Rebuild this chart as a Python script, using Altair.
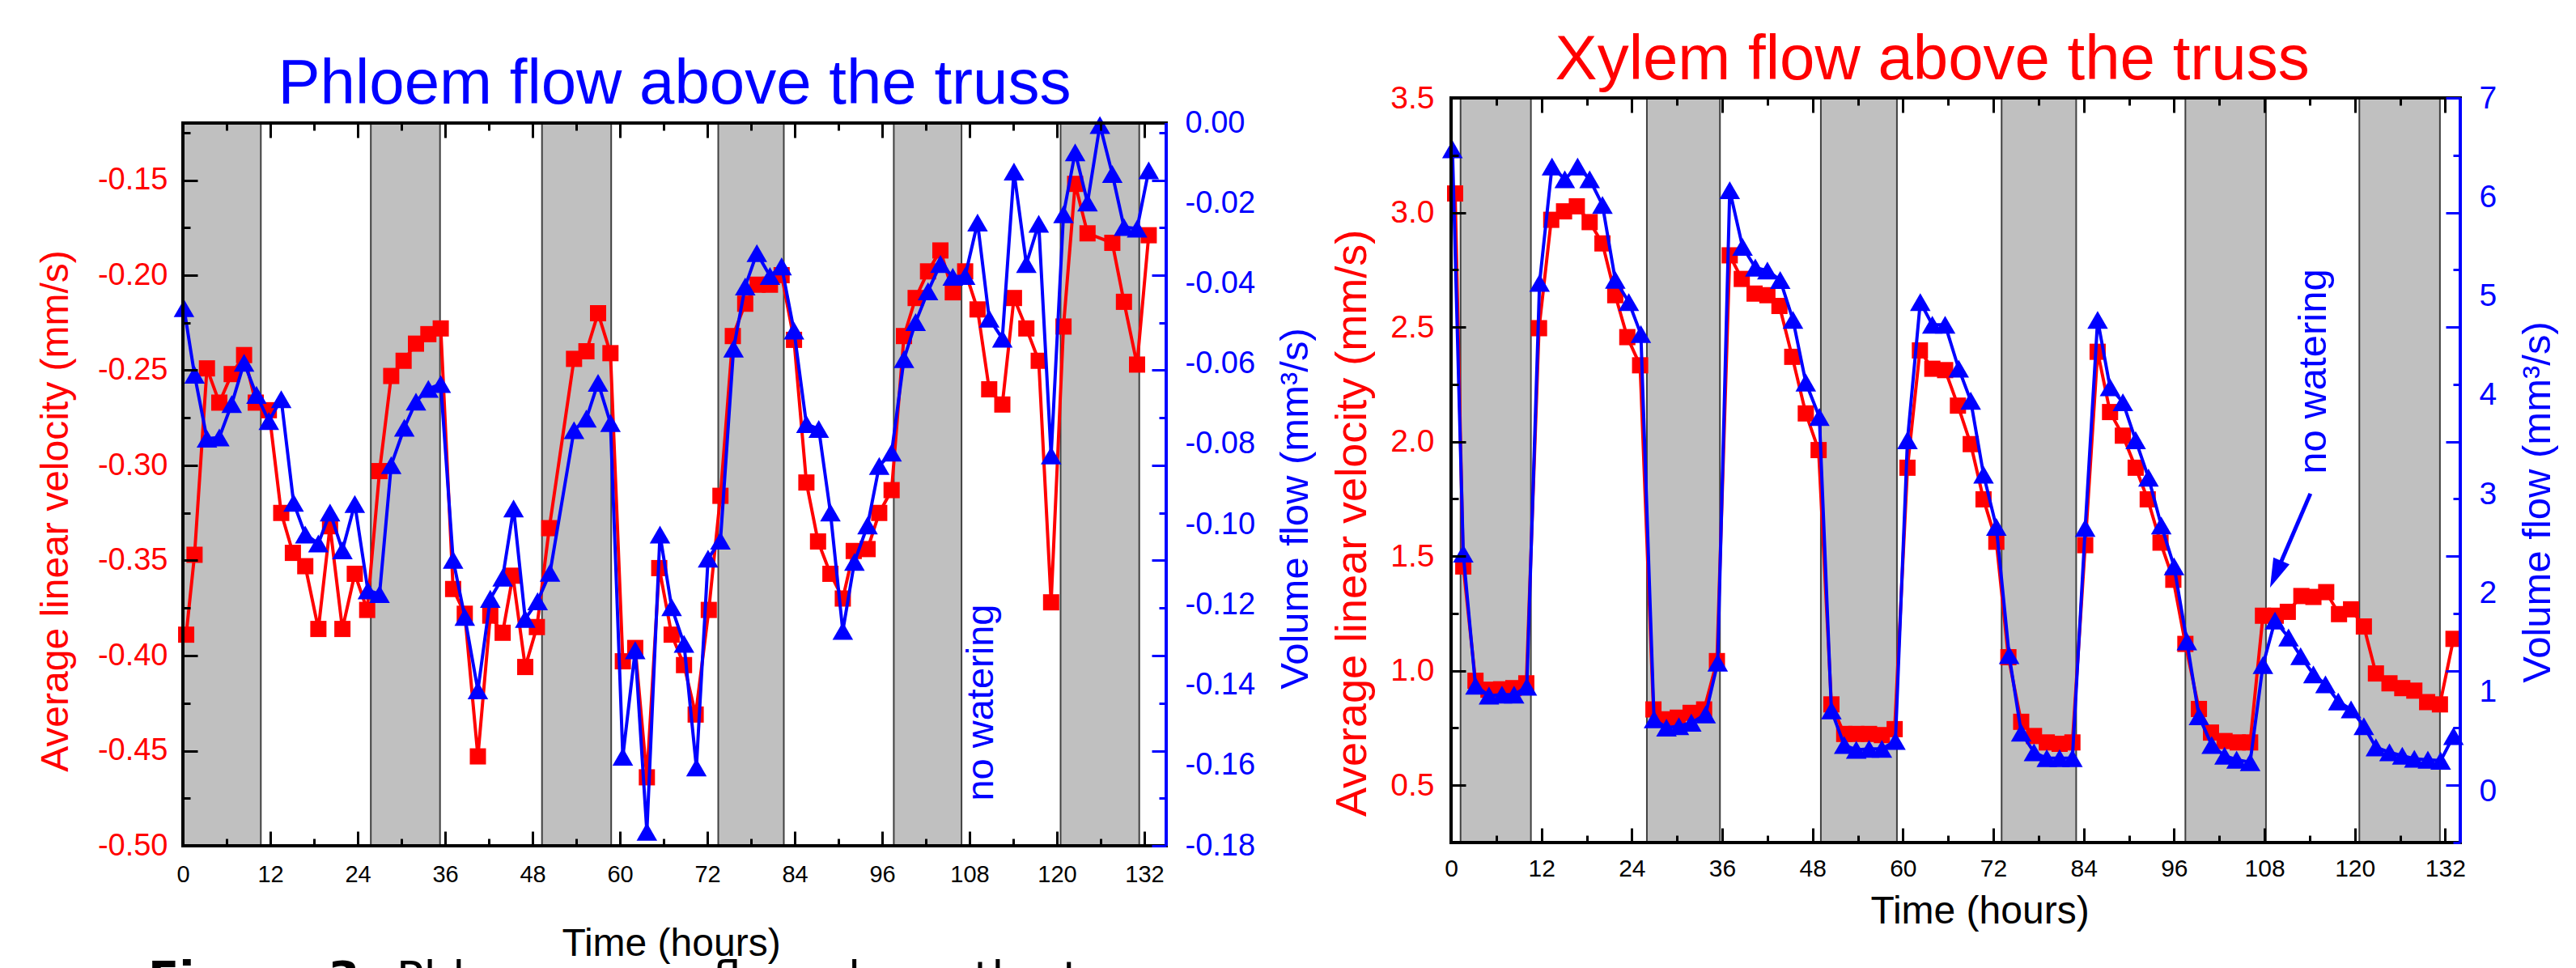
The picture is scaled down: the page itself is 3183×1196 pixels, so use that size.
import altair as alt
import pandas as pd

# ----------------------------------------------------------------- data
# Left panel: phloem flow above the truss
phloem_vel_hours = [0.45, 1.6, 3.3, 5.0, 6.7, 8.4, 10.0, 11.8, 13.5, 15.1,
                    16.8, 18.6, 20.2, 21.9, 23.6, 25.3, 27.0, 28.6, 30.3, 32.0,
                    33.7, 35.4, 37.1, 38.7, 40.5, 42.2, 43.9, 45.3, 47.0, 48.6,
                    50.3, 53.7, 55.4, 57.0, 58.7, 60.4, 62.1, 63.7, 65.4, 67.1,
                    68.8, 70.4, 72.2, 73.8, 75.5, 77.2, 78.9, 80.6, 82.2, 83.9,
                    85.6, 87.2, 88.9, 90.6, 92.1, 94.0, 95.6, 97.3, 99.0, 100.6,
                    102.3, 104.0, 105.7, 107.4, 109.1, 110.7, 112.5, 114.1, 115.8, 117.5,
                    119.2, 120.9, 122.5, 124.2, 127.6, 129.2, 131.0, 132.6]
phloem_velocity = [-0.389, -0.347, -0.249, -0.267, -0.252, -0.242, -0.267, -0.271, -0.325, -0.346,
                   -0.353, -0.386, -0.332, -0.386, -0.357, -0.376, -0.303, -0.253, -0.245, -0.236,
                   -0.231, -0.228, -0.365, -0.378, -0.453, -0.379, -0.388, -0.358, -0.406, -0.385,
                   -0.333, -0.244, -0.240, -0.220, -0.241, -0.403, -0.396, -0.464, -0.354, -0.389,
                   -0.405, -0.431, -0.376, -0.316, -0.232, -0.215, -0.205, -0.205, -0.200, -0.234,
                   -0.309, -0.340, -0.357, -0.370, -0.345, -0.344, -0.325, -0.313, -0.232, -0.212,
                   -0.198, -0.187, -0.209, -0.198, -0.218, -0.260, -0.268, -0.212, -0.228, -0.245,
                   -0.372, -0.227, -0.152, -0.178, -0.183, -0.214, -0.247, -0.179]
phloem_vol_hours = [0.15, 1.6, 3.3, 5.0, 6.7, 8.4, 10.1, 11.8, 13.5, 15.2,
                    16.8, 18.6, 20.2, 21.9, 23.6, 25.4, 27.0, 28.6, 30.4, 32.0,
                    33.7, 35.4, 37.1, 38.7, 40.5, 42.2, 43.9, 45.4, 47.0, 48.7,
                    50.4, 53.7, 55.4, 57.0, 58.7, 60.4, 62.1, 63.7, 65.5, 67.1,
                    68.8, 70.5, 72.1, 73.8, 75.6, 77.2, 78.8, 80.6, 82.2, 83.9,
                    85.6, 87.3, 88.9, 90.6, 92.2, 94.0, 95.6, 97.3, 99.0, 100.6,
                    102.3, 104.0, 105.7, 107.4, 109.1, 110.7, 112.5, 114.1, 115.8, 117.5,
                    119.2, 120.9, 122.5, 124.2, 125.9, 127.6, 129.2, 131.0, 132.6]
phloem_volume = [-0.0461, -0.0627, -0.0786, -0.0783, -0.0700, -0.0597, -0.0677, -0.0742, -0.0688, -0.0946,
                 -0.1025, -0.1047, -0.0970, -0.1064, -0.0949, -0.1164, -0.1173, -0.0852, -0.0759, -0.0694,
                 -0.0662, -0.0650, -0.1088, -0.1230, -0.1413, -0.1185, -0.1132, -0.0960, -0.1235, -0.1191,
                 -0.1120, -0.0765, -0.0736, -0.0647, -0.0747, -0.1578, -0.1313, -0.1765, -0.1025, -0.1206,
                 -0.1297, -0.1605, -0.1085, -0.1040, -0.0562, -0.0407, -0.0324, -0.0381, -0.0357, -0.0517,
                 -0.0750, -0.0762, -0.0970, -0.1265, -0.1093, -0.1002, -0.0854, -0.0821, -0.0588, -0.0496,
                 -0.0419, -0.0351, -0.0383, -0.0381, -0.0248, -0.0487, -0.0537, -0.0121, -0.0351, -0.0251,
                 -0.0828, -0.0227, -0.0073, -0.0198, -0.0005, -0.0127, -0.0259, -0.0263, -0.0118]
phloem_night_start = [0.0, 25.8, 49.3, 73.5, 97.6, 120.5]
phloem_night_end = [10.7, 35.3, 58.8, 82.5, 106.9, 131.3]

# Right panel: xylem flow above the truss
xylem_vel_hours = [0.54, 1.62, 3.24, 4.96, 6.65, 8.27, 9.99, 11.68, 13.3, 15.0,
                   16.7, 18.4, 20.1, 21.8, 23.4, 25.1, 26.87, 28.5, 30.1, 31.8,
                   33.6, 35.3, 37.0, 38.6, 40.3, 42.0, 43.6, 45.3, 47.1, 48.8,
                   50.5, 52.2, 53.8, 55.5, 57.2, 58.9, 60.6, 62.25, 63.9, 65.6,
                   67.3, 69.0, 70.7, 72.4, 74.0, 75.7, 77.4, 79.1, 80.8, 82.5,
                   84.2, 85.85, 87.5, 89.2, 90.9, 92.5, 94.2, 95.9, 97.5, 99.3,
                   100.9, 102.7, 104.45, 106.1, 107.8, 109.5, 111.1, 112.9, 114.5, 116.2,
                   117.9, 119.5, 121.2, 122.8, 124.6, 126.3, 127.9, 129.6, 131.3, 133.1]
xylem_velocity = [3.083, 1.455, 0.956, 0.917, 0.919, 0.924, 0.945, 2.495, 2.968, 3.005,
                  3.027, 2.958, 2.865, 2.639, 2.456, 2.333, 0.831, 0.788, 0.795, 0.816,
                  0.831, 1.042, 2.813, 2.710, 2.646, 2.639, 2.592, 2.370, 2.123, 1.963,
                  0.853, 0.724, 0.724, 0.724, 0.719, 0.745, 1.886, 2.398, 2.318, 2.312,
                  2.157, 1.989, 1.748, 1.563, 1.059, 0.777, 0.715, 0.687, 0.681, 0.687,
                  1.548, 2.392, 2.129, 2.026, 1.886, 1.748, 1.559, 1.397, 1.117, 0.833,
                  0.730, 0.693, 0.687, 0.687, 1.240, 1.240, 1.257, 1.326, 1.322, 1.343,
                  1.247, 1.268, 1.193, 0.988, 0.945, 0.924, 0.913, 0.863, 0.853, 1.139]
xylem_vol_hours = [0.18, 1.62, 3.24, 5.03, 6.76, 8.37, 10.06, 11.75, 13.4, 15.1,
                   16.8, 18.4, 20.1, 21.8, 23.6, 25.2, 26.95, 28.6, 30.25, 31.9,
                   33.8, 35.4, 37.0, 38.7, 40.4, 42.0, 43.7, 45.4, 47.1, 48.9,
                   50.5, 52.2, 53.8, 55.5, 57.2, 59.0, 60.6, 62.3, 63.9, 65.6,
                   67.4, 69.0, 70.7, 72.4, 74.1, 75.7, 77.4, 79.1, 80.8, 82.5,
                   84.2, 85.85, 87.5, 89.2, 90.9, 92.6, 94.3, 96.0, 97.7, 99.3,
                   101.0, 102.7, 104.3, 106.1, 107.8, 109.4, 111.2, 112.8, 114.5, 116.1,
                   117.8, 119.5, 121.2, 122.8, 124.6, 126.3, 127.9, 129.7, 131.4, 133.1]
xylem_volume = [6.482, 2.396, 1.061, 0.962, 0.972, 0.972, 1.051, 5.132, 6.307, 6.178,
                6.307, 6.178, 5.919, 5.162, 4.937, 4.614, 0.722, 0.638, 0.653, 0.688,
                0.772, 1.295, 6.068, 5.495, 5.286, 5.256, 5.160, 4.758, 4.125, 3.777,
                0.812, 0.463, 0.414, 0.424, 0.424, 0.503, 3.542, 4.937, 4.708, 4.708,
                4.265, 3.941, 3.194, 2.666, 1.370, 0.588, 0.389, 0.329, 0.329, 0.329,
                2.656, 4.758, 4.076, 3.926, 3.542, 3.164, 2.680, 2.267, 1.510, 0.752,
                0.463, 0.354, 0.314, 0.289, 1.270, 1.719, 1.549, 1.360, 1.176, 1.076,
                0.902, 0.822, 0.653, 0.439, 0.389, 0.354, 0.324, 0.314, 0.304, 0.553]
xylem_night_start = [1.26, 26.0, 49.1, 73.1, 97.5, 120.6]
xylem_night_end = [10.6, 35.7, 59.2, 83.0, 108.2, 131.3]

# axis labels / ticks
hour_labels = [0, 12, 24, 36, 48, 60, 72, 84, 96, 108, 120, 132]
hour_ticks = [0, 6, 12, 18, 24, 30, 36, 42, 48, 54, 60, 66, 72, 78, 84, 90, 96, 102, 108, 114, 120, 126, 132]
phloem_vel_labels = [-0.50, -0.45, -0.40, -0.35, -0.30, -0.25, -0.20, -0.15]
phloem_vel_ticks = [-0.5, -0.475, -0.45, -0.425, -0.4, -0.375, -0.35, -0.325, -0.3, -0.275,
                    -0.25, -0.225, -0.2, -0.175, -0.15, -0.125]
phloem_vol_labels = [-0.18, -0.16, -0.14, -0.12, -0.10, -0.08, -0.06, -0.04, -0.02, 0.0]
xylem_vel_labels = [0.5, 1.0, 1.5, 2.0, 2.5, 3.0, 3.5]
xylem_vel_ticks = [0.25, 0.5, 0.75, 1.0, 1.25, 1.5, 1.75, 2.0, 2.25, 2.5, 2.75, 3.0, 3.25, 3.5]
xylem_vol_labels = [0, 1, 2, 3, 4, 5, 6, 7]

# ----------------------------------------------------------------- style / layout
FONT = "Liberation Sans"
RED = "#FF0000"
BLUE = "#0000FF"
GRAY = "#C0C0C0"
EDGE = "#404040"
MINUS_FIX = "replace(datum.label, '\u2212', '-')"
TOTAL_W, TOTAL_H = 2814, 924          # one drawing area holding both panels


def tick_layer(vals, ch, scale, orient, offset, test, color):
    ax = alt.Axis(orient=orient, offset=offset, values=vals, labels=False, ticks=True,
                  tickColor=color, tickWidth=3,
                  tickSize={"condition": {"test": test, "value": 18}, "value": 9},
                  domain=False, grid=False, title=None, zindex=2)
    base = alt.Chart(pd.DataFrame({"v": vals})).mark_point(opacity=0)
    if ch == "x":
        return base.encode(x=alt.X("v:Q", scale=scale, axis=ax))
    return base.encode(y=alt.Y("v:Q", scale=scale, axis=ax))


def text_layer(label, x, y, XS, YS, **kw):
    return alt.Chart(pd.DataFrame({"t": [label], "x": [x], "y": [y]})).mark_text(**kw).encode(
        x=alt.X("x:Q", scale=XS, axis=None),
        y=alt.Y("y:Q", scale=YS, axis=None),
        text="t:N",
    )


def panel(x0, x1, y_top, y_bot, xdom, vdom, qdom, vel_h, vel, vol_h, vol, n_start, n_end,
          vel_labels, vel_fmt, vel_ticks, vel_test, vol_labels, vol_fmt,
          xlab_size, xlab_pad, ylab_size, red_title, blue_title, time_title):
    XS = alt.Scale(domain=xdom, range=[x0, x1], nice=False, zero=False)
    RS = alt.Scale(domain=vdom, range=[y_bot, y_top], nice=False, zero=False)
    BS = alt.Scale(domain=qdom, range=[y_bot, y_top], nice=False, zero=False)

    x_axis = alt.Axis(orient="bottom", offset=-(TOTAL_H - y_bot), values=hour_labels, format="d",
                      ticks=False, domain=False,
                      labelFont=FONT, labelFontSize=xlab_size, labelColor="black",
                      labelPadding=xlab_pad, labelFlush=False, labelOverlap=False, grid=False,
                      title="Time (hours)", titleFont=FONT, titleFontSize=48,
                      titleFontWeight="normal", titleColor="black",
                      titleBaseline="alphabetic", titleAlign="center",
                      titleX=time_title[0], titleY=time_title[1], zindex=2)
    bands = alt.Chart(pd.DataFrame({"start": n_start, "end": n_end,
                                    "lo": vdom[0], "hi": vdom[1]})).mark_rect(
        fill=GRAY, stroke=EDGE, strokeWidth=2
    ).encode(
        x=alt.X("start:Q", scale=XS, axis=x_axis),
        x2="end:Q",
        y=alt.Y("lo:Q", scale=RS, axis=None),
        y2="hi:Q",
    )

    red_axis = alt.Axis(orient="left", offset=-x0, values=vel_labels, format=vel_fmt,
                        labelExpr=MINUS_FIX, ticks=False, domain=False,
                        labelFont=FONT, labelFontSize=ylab_size, labelColor=RED,
                        labelPadding=red_title[3], labelFlush=False, labelOverlap=False,
                        grid=False, title="Average linear velocity (mm/s)", titleFont=FONT,
                        titleFontSize=red_title[2], titleFontWeight="normal", titleColor=RED,
                        titleAngle=270, titleAlign="center", titleBaseline="middle",
                        titleX=red_title[0], titleY=red_title[1], zindex=2)
    red = alt.Chart(pd.DataFrame({"hours": vel_h, "velocity": vel})).mark_line(
        color=RED, strokeWidth=4,
        point=alt.OverlayMarkDef(shape="square", size=400, filled=True, color=RED, opacity=1),
    ).encode(
        x=alt.X("hours:Q", scale=XS, axis=None),
        y=alt.Y("velocity:Q", scale=RS, axis=red_axis),
    )

    blue_axis = alt.Axis(orient="right", offset=-(TOTAL_W - x1), values=vol_labels,
                         format=vol_fmt, labelExpr=MINUS_FIX,
                         ticks=False, domain=False, labelFont=FONT, labelFontSize=ylab_size,
                         labelColor=BLUE, labelPadding=blue_title[3], labelFlush=False,
                         labelOverlap=False, grid=False, title="Volume flow (mm\u00b3/s)",
                         titleFont=FONT, titleFontSize=blue_title[2], titleFontWeight="normal",
                         titleColor=BLUE, titleAngle=270, titleAlign="center",
                         titleBaseline="middle", titleX=blue_title[0], titleY=blue_title[1],
                         zindex=2)
    blue = alt.Chart(pd.DataFrame({"hours": vol_h, "volume": vol})).mark_line(
        color=BLUE, strokeWidth=4,
        point=alt.OverlayMarkDef(shape="triangle-up", size=650, filled=True, color=BLUE, opacity=1),
    ).encode(
        x=alt.X("hours:Q", scale=XS, axis=None),
        y=alt.Y("volume:Q", scale=BS, axis=blue_axis),
    )

    frame_df = pd.DataFrame({"x0": [xdom[0]], "x1": [xdom[1]], "y0": [vdom[0]], "y1": [vdom[1]]})
    frame = alt.Chart(frame_df).mark_rect(filled=False, stroke="black", strokeWidth=4).encode(
        x=alt.X("x0:Q", scale=XS, axis=None), x2="x1:Q",
        y=alt.Y("y0:Q", scale=RS, axis=None), y2="y1:Q",
    )
    right_edge = alt.Chart(frame_df).mark_rule(color=BLUE, strokeWidth=4).encode(
        x=alt.X("x1:Q", scale=XS, axis=None),
        y=alt.Y("y0:Q", scale=RS, axis=None), y2="y1:Q",
    )

    xt = "datum.value % 12 === 0"
    ticks = [
        tick_layer(vel_ticks, "y", RS, "right", -(TOTAL_W - x0), vel_test, "black"),
        tick_layer(vel_ticks, "y", RS, "left", -x1, vel_test, BLUE),
        tick_layer(hour_ticks, "x", XS, "top", -y_bot, xt, "black"),
        tick_layer(hour_ticks, "x", XS, "bottom", -(TOTAL_H - y_top), xt, "black"),
    ]
    return [bands, red, blue, frame, right_edge] + ticks, XS, RS


# ----------------------------------------------------------------- left panel (phloem)
layers1, XS1, RS1 = panel(
    0, 1215, 31, 924, [0, 135], [-0.5, -0.12], [-0.18, 0.0],
    phloem_vel_hours, phloem_velocity, phloem_vol_hours, phloem_volume,
    phloem_night_start, phloem_night_end,
    phloem_vel_labels, ".2f", phloem_vel_ticks,
    "abs(datum.value * 20 - round(datum.value * 20)) < 0.001",
    phloem_vol_labels, ".2f", 29, 21, 38,
    (-157, 510, 48, 19), (159, 507, 49, 23), (603, 135),
)
texts1 = [
    text_layer("Phloem flow above the truss", 67.5, -0.1098, XS1, RS1, font=FONT, fontSize=78,
               color=BLUE, align="center", baseline="alphabetic"),
    text_layer("no watering", 109.7, -0.4247, XS1, RS1, font=FONT, fontSize=47, color=BLUE,
               angle=270, align="center", baseline="middle"),
    text_layer("Figure 3:", -4.78, -0.5774, XS1, RS1, font="DejaVu Sans", fontSize=56,
               fontWeight="bold", color="black", align="left", baseline="alphabetic"),
    text_layer("Phloem mass flow above the truss", 29.3, -0.5774, XS1, RS1, font="DejaVu Sans",
               fontSize=56, color="black", align="left", baseline="alphabetic",
               limit=1055, ellipsis=""),
]

# ----------------------------------------------------------------- right panel (xylem)
layers2, XS2, RS2 = panel(
    1567, 2814, 0, 920, [0, 134], [0.25, 3.5], [-0.523, 7.0],
    xylem_vel_hours, xylem_velocity, xylem_vol_hours, xylem_volume,
    xylem_night_start, xylem_night_end,
    xylem_vel_labels, ".1f", xylem_vel_ticks,
    "abs(datum.value * 2 - round(datum.value * 2)) < 0.001",
    xylem_vol_labels, "d", 30, 17, 39,
    (-122, 525, 54, 21), (95, 499, 49, 23), (2220, 99),
)
arrow_df = pd.DataFrame({"x": [114.1], "y": [1.773], "x2": [109.5], "y2": [1.421]})
arrow_shaft = alt.Chart(arrow_df).mark_rule(color=BLUE, strokeWidth=5).encode(
    x=alt.X("x:Q", scale=XS2, axis=None), y=alt.Y("y:Q", scale=RS2, axis=None),
    x2="x2:Q", y2="y2:Q",
)
arrow_head = alt.Chart(arrow_df).mark_point(
    shape="M0,-1L0.6,1L-0.6,1Z", size=1300, filled=True, color=BLUE, opacity=1, angle=203
).encode(
    x=alt.X("x2:Q", scale=XS2, axis=None), y=alt.Y("y2:Q", scale=RS2, axis=None),
)
texts2 = [
    arrow_shaft,
    arrow_head,
    text_layer("Xylem flow above the truss", 63.9, 3.581, XS2, RS2, font=FONT, fontSize=78,
               color=RED, align="center", baseline="alphabetic"),
    text_layer("no watering", 114.55, 2.306, XS2, RS2, font=FONT, fontSize=49, color=BLUE,
               angle=270, align="center", baseline="middle"),
]

chart = alt.layer(*layers1, *texts1, *layers2, *texts2).resolve_scale(
    x="independent", y="independent"
).resolve_axis(x="independent", y="independent").properties(
    width=TOTAL_W, height=TOTAL_H,
    autosize=alt.AutoSizeParams(type="none"),
    padding={"left": 218, "top": 113, "right": 135, "bottom": 151},
    background="white",
).configure_view(stroke=None)

chart.save("out.html", embed_options={"renderer": "svg", "actions": False})
